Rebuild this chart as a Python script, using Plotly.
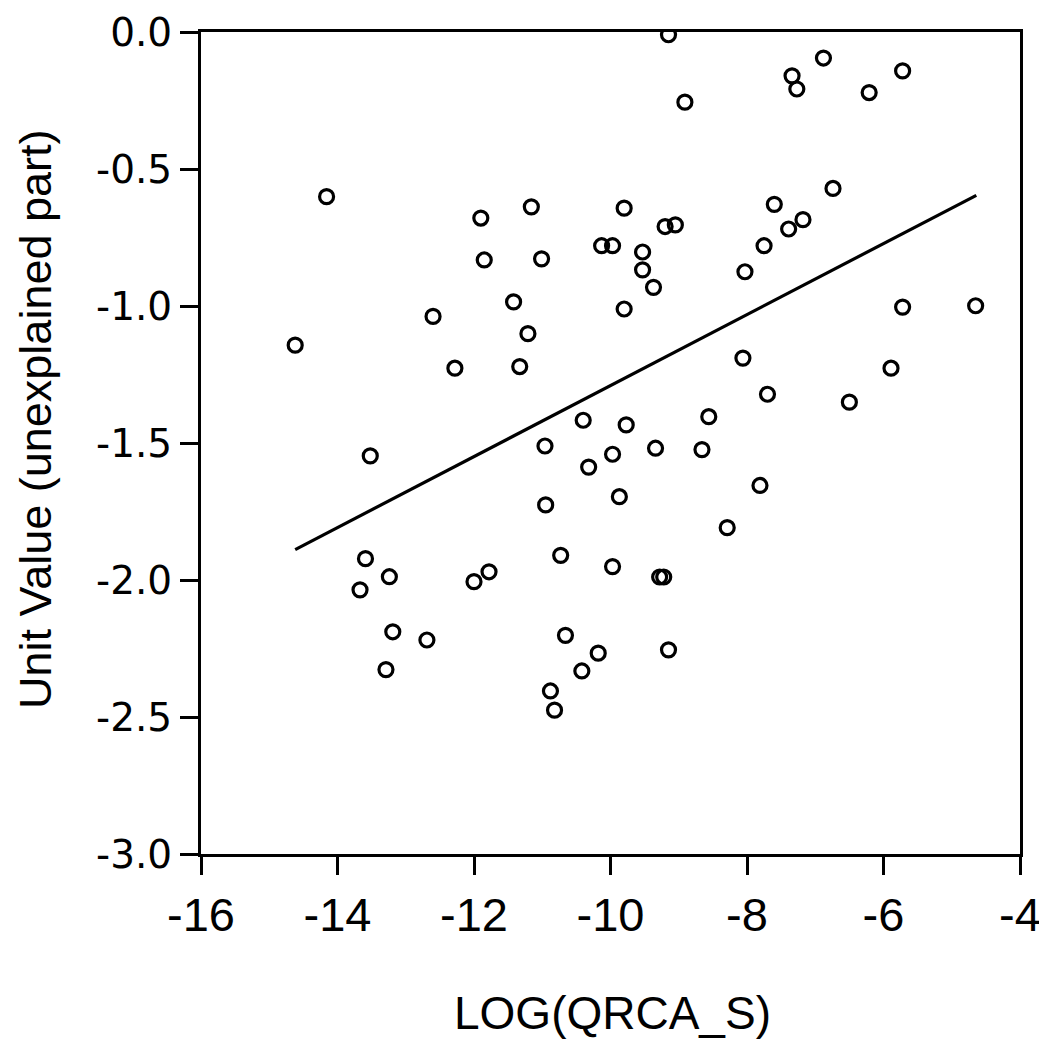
"""
Scatter of unexplained unit value against LOG(QRCA_S) with fitted line.
"""

import plotly.graph_objects as go

log_qrca = [
    -14.62, -14.16, -13.52, -13.59, -13.67, -13.24, -13.19, -13.29, -12.69, -12.60,
    -12.28, -12.00, -11.78, -11.90, -11.85, -11.42, -11.21, -11.16, -11.33, -11.01,
    -10.96, -10.95, -10.73, -10.88, -10.82, -10.66, -10.40, -10.32, -10.42, -10.18,
    -10.13, -9.97, -9.97, -9.97, -9.87, -9.80, -9.80, -9.77, -9.53, -9.53,
    -9.37, -9.34, -9.28, -9.22, -9.20, -9.05, -9.15, -8.91, -9.15, -8.66,
    -8.56, -8.29, -8.06, -8.03, -7.75, -7.81, -7.70, -7.60, -7.39, -7.18,
    -7.34, -7.27, -6.88, -6.74, -6.50, -6.21, -5.89, -5.72, -5.72, -4.65,
]
unit_value = [
    -1.143, -0.601, -1.547, -1.922, -2.036, -1.988, -2.189, -2.327, -2.219, -1.038,
    -1.227, -2.006, -1.970, -0.679, -0.832, -0.985, -1.101, -0.638, -1.221, -0.828,
    -1.511, -1.726, -1.910, -2.405, -2.475, -2.202, -1.417, -1.588, -2.332, -2.267,
    -0.780, -0.780, -1.541, -1.951, -1.696, -0.643, -1.011, -1.434, -0.803, -0.868,
    -0.932, -1.519, -1.989, -1.989, -0.710, -0.704, -0.010, -0.256, -2.255, -1.524,
    -1.404, -1.809, -1.190, -0.875, -0.780, -1.655, -1.322, -0.629, -0.719, -0.685,
    -0.160, -0.208, -0.095, -0.571, -1.351, -0.221, -1.227, -0.142, -1.004, -0.999,
]

# fitted line endpoints
fit_x = [-14.62, -4.64]
fit_y = [-1.889, -0.596]

x_ticks = [-16, -14, -12, -10, -8, -6, -4]
y_ticks = [0.0, -0.5, -1.0, -1.5, -2.0, -2.5, -3.0]

# page body has an 8px margin, so the figure is 8px smaller than the window
W, H = 1039, 1035
L, R, T, B = 193, 27, 24, 189
OFF = 8

fig = go.Figure()

fig.add_trace(go.Scatter(
    x=log_qrca, y=unit_value,
    mode="markers",
    marker=dict(symbol="circle-open", size=14, color="black",
                line=dict(color="black", width=3.2)),
    showlegend=False,
))

fig.add_trace(go.Scatter(
    x=fit_x, y=fit_y,
    mode="lines",
    line=dict(color="black", width=3.2),
    showlegend=False,
))

axis_common = dict(
    showgrid=False, zeroline=False, automargin=False,
    showline=True, linecolor="black", linewidth=3, mirror=True,
    ticks="outside", ticklen=18, tickwidth=2.5, tickcolor="black",
)

fig.update_xaxes(
    **axis_common,
    range=[-16, -4],
    tickvals=x_ticks,
    ticktext=[str(v) for v in x_ticks],
    tickfont=dict(family="Liberation Sans, Arial", size=47, color="black"),
)
fig.update_yaxes(
    **axis_common,
    range=[-3, 0],
    tickvals=y_ticks,
    ticktext=[f"{v:.1f}" for v in y_ticks],
    tickfont=dict(family="DejaVu Sans", size=39, color="black"),
)

pw, ph = W - L - R, H - T - B

# axis titles placed as annotations (positions in window pixels)
fig.add_annotation(
    text="LOG(QRCA_S)",
    xref="paper", yref="paper",
    x=(612 - OFF - L) / pw, y=(H - B - (1013 - OFF)) / ph,
    xanchor="center", yanchor="middle",
    showarrow=False,
    font=dict(family="Liberation Sans, Arial", size=46, color="black"),
)
fig.add_annotation(
    text="Unit Value (unexplained part)",
    xref="paper", yref="paper",
    x=(35 - OFF - L) / pw, y=(H - B - (419 - OFF)) / ph,
    xanchor="center", yanchor="middle",
    textangle=-90,
    borderpad=0,
    showarrow=False,
    font=dict(family="Liberation Sans, Arial", size=45, color="black"),
)

fig.update_layout(
    width=W, height=H,
    margin=dict(l=L, r=R, t=T, b=B),
    paper_bgcolor="white",
    plot_bgcolor="white",
)

fig.write_html("out.html")
